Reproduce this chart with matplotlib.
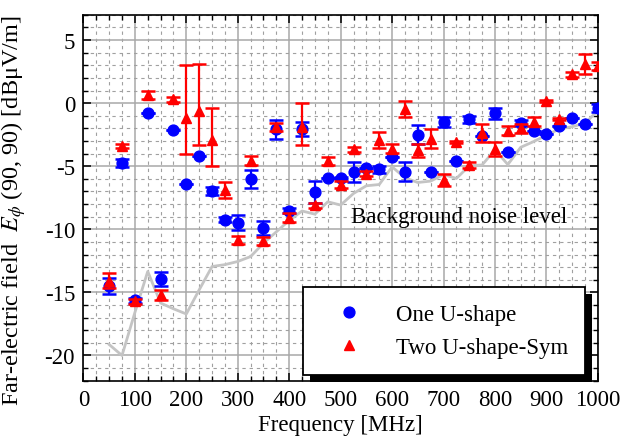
import matplotlib
matplotlib.use('Agg')
import matplotlib.pyplot as plt
from matplotlib.patches import Rectangle
from matplotlib.ticker import MultipleLocator

plt.rcParams['font.family'] = ['Liberation Serif', 'DejaVu Serif']
plt.rcParams['mathtext.fontset'] = 'stix'
plt.rcParams['axes.unicode_minus'] = False

# measurement frequencies [MHz]
freq = [50, 75, 100, 125, 150, 175, 200, 225, 250, 275, 300, 325, 350,
        375, 400, 425, 450, 475, 500, 525, 550, 575, 600, 625, 650, 675,
        700, 725, 750, 775, 800, 825, 850, 875, 900, 925, 950, 975, 1000]

# One U-shape
one_u = [-14.5, -4.74, -15.63, -0.76, -13.95, -2.1, -6.39, -4.18, -6.97,
         -9.26, -9.47, -6.03, -9.92, -2.08, -8.53, -2.08, -7.03, -5.97,
         -5.92, -5.45, -5.18, -5.26, -4.26, -5.45, -2.5, -5.45, -1.5, -4.6,
         -1.29, -2.63, -0.82, -3.84, -1.6, -2.18, -2.45, -1.84, -1.21,
         -1.66, -0.39]
one_u_err = [0.65, 0.3, 0.2, 0.0, 0.55, 0.0, 0.0, 0.0, 0.3,
             0.2, 0.6, 0.7, 0.55, 0.75, 0.2, 0.55, 0.87, 0.0,
             0.1, 0.8, 0.0, 0.3, 0.0, 0.75, 0.75, 0.0, 0.4, 0.0,
             0.3, 0.0, 0.45, 0.0, 0.25, 0.0, 0.0, 0.0, 0.0,
             0.0, 0.3]

# Two U-shape-Sym
two_u = [-14.08, -3.42, -15.7, 0.66, -15.24, 0.29, -1.18, -0.66, -2.95,
         -6.89, -10.84, -4.55, -10.92, -1.9, -9.08, -1.9, -8.08, -4.6,
         -6.45, -3.66, -5.58, -2.95, -3.6, -0.45, -3.74, -2.82, -6.1, -3.08,
         -4.92, -2.37, -3.63, -2.18, -2.0, -1.47, 0.18, -1.26, 2.29,
         3.08, 2.95]
two_u_lo = [0.6, 0.15, 0.2, 0.3, 0.4, 0.2, 2.85, 2.63, 2.0,
            0.66, 0.3, 0.35, 0.3, 0.3, 0.35, 1.4, 0.2, 0.3,
            0.3, 0.2, 0.2, 0.63, 0.35, 0.65, 0.5, 0.75, 0.5, 0.1,
            0.25, 0.7, 0.53, 0.33, 0.36, 0.36, 0.1, 0.1, 0.2,
            0.8, 0.3]
two_u_hi = [0.6, 0.15, 0.2, 0.3, 0.4, 0.2, 4.2, 3.76, 2.58,
            0.66, 0.3, 0.35, 0.3, 0.3, 0.35, 1.9, 0.2, 0.3,
            0.3, 0.2, 0.2, 0.63, 0.35, 0.65, 0.5, 0.75, 0.5, 0.1,
            0.25, 0.7, 0.53, 0.33, 0.36, 0.36, 0.1, 0.1, 0.2,
            0.8, 0.3]

# background noise level
noise = [-19.13, -20.0, -16.6, -13.34, -15.84, -16.3, -16.71, -14.8, -12.95,
         -12.8, -12.55, -12.16, -11.1, -10.2, -9.3, -8.55, -8.8, -7.82,
         -8.08, -7.16, -6.55, -6.45, -5.05, -5.92, -6.29, -6.18, -5.66,
         -5.97, -4.97, -4.9, -3.7, -4.87, -3.5, -3.05, -2.55, -2.05, -1.87,
         -1.6, -0.6]

fig = plt.figure(figsize=(6.32, 4.39), dpi=100)
ax = fig.add_axes([0.132, 0.1305, 0.814, 0.8335])

ax.plot(freq, noise, color='#c4c4c4', lw=2.0, zorder=2)

blue = ax.errorbar(freq, one_u, yerr=one_u_err, fmt='o', color='#0000ff',
                   ms=7.8, elinewidth=1.6, capsize=5, capthick=1.8, zorder=3)
red = ax.errorbar(freq, two_u, yerr=[two_u_lo, two_u_hi], fmt='^',
                  color='#ff0000', ms=7, elinewidth=1.6, capsize=5,
                  capthick=1.8, zorder=4)

ax.text(730, -9.0, 'Background noise level', fontsize=16.5, ha='center',
        va='center', zorder=4)

ax.set_xlim(0, 1000)
ax.set_ylim(-22, 7)
ax.xaxis.set_major_locator(MultipleLocator(100))
ax.xaxis.set_minor_locator(MultipleLocator(25))
ax.yaxis.set_major_locator(MultipleLocator(5))
ax.yaxis.set_minor_locator(MultipleLocator(1))

ax.grid(which='major', color='#a8a8a8', lw=1.1, ls='-', zorder=0)
ax.grid(which='minor', color='#a0a0a0', lw=0.8, ls=(0, (3, 3.5)), zorder=0)
ax.set_axisbelow(True)

ax.tick_params(which='both', direction='in', top=True, right=True,
               labelsize=16.5, colors='black')
ax.tick_params(which='major', length=6, width=1.1, pad=6)
ax.tick_params(which='minor', length=3.5, width=1.0)
for sp in ax.spines.values():
    sp.set_linewidth(1.2)

ax.set_xlabel('Frequency [MHz]', fontsize=16.5, labelpad=3)
ax.set_ylabel('Far-electric field  $E_{\\phi}$ (90, 90) [dB\u03bcV/m]',
              fontsize=17.5)
ax.yaxis.set_label_coords(-0.108, 0.466)

leg = ax.legend([blue[0], red[0]], ['One U-shape', 'Two U-shape-Sym'],
                loc='lower right', bbox_to_anchor=(0.975, 0.016),
                borderaxespad=0, fontsize=16.5, fancybox=False,
                edgecolor='black', framealpha=1, borderpad=0.75,
                handlelength=2.5, handletextpad=0.8, labelspacing=0.5)
leg.get_frame().set_linewidth(1.3)
leg.set_zorder(6)

# offset black shadow behind the legend box
fig.canvas.draw()
bb = leg.get_window_extent().transformed(fig.transFigure.inverted())
dx, dy = 7 / 632, 7 / 439
ax.add_patch(Rectangle((bb.x0 + dx, bb.y0 - dy), bb.width, bb.height,
                       transform=fig.transFigure, facecolor='black',
                       edgecolor='none', clip_on=False, zorder=5.5))

fig.savefig('out.png', dpi=100)
